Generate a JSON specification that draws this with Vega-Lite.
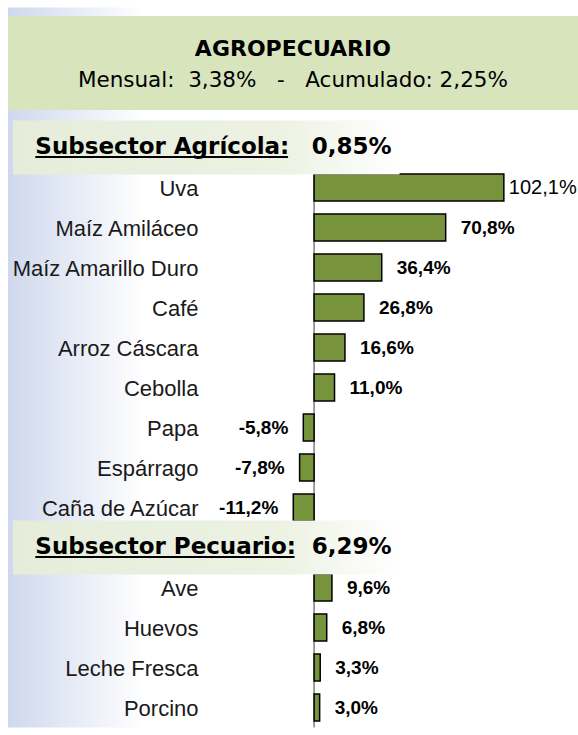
{
  "$schema": "https://vega.github.io/schema/vega-lite/v6.json",
  "width": 578,
  "height": 735,
  "autosize": {"type": "fit", "contains": "padding"},
  "padding": 0,
  "background": "#ffffff",
  "config": {"view": {"stroke": null}, "axis": {"grid": false}},
  "datasets": {
    "items": [
      {"producto": "Uva", "subsector": "Agrícola", "var": 102.1},
      {"producto": "Maíz Amiláceo", "subsector": "Agrícola", "var": 70.8},
      {"producto": "Maíz Amarillo Duro", "subsector": "Agrícola", "var": 36.4},
      {"producto": "Café", "subsector": "Agrícola", "var": 26.8},
      {"producto": "Arroz Cáscara", "subsector": "Agrícola", "var": 16.6},
      {"producto": "Cebolla", "subsector": "Agrícola", "var": 11.0},
      {"producto": "Papa", "subsector": "Agrícola", "var": -5.8},
      {"producto": "Espárrago", "subsector": "Agrícola", "var": -7.8},
      {"producto": "Caña de Azúcar", "subsector": "Agrícola", "var": -11.2},
      {"producto": "Ave", "subsector": "Pecuario", "var": 9.6},
      {"producto": "Huevos", "subsector": "Pecuario", "var": 6.8},
      {"producto": "Leche Fresca", "subsector": "Pecuario", "var": 3.3},
      {"producto": "Porcino", "subsector": "Pecuario", "var": 3.0}
    ],
    "headers": [
      {"slot": "_H1", "nombre": "Subsector Agrícola:", "valor": "0,85%"},
      {"slot": "_H2", "nombre": "Subsector Pecuario:", "valor": "6,29%"}
    ],
    "titulo": [
      {"titulo": "AGROPECUARIO", "sub": "Mensual:\u00a0\u00a03,38%\u00a0\u00a0\u00a0-\u00a0\u00a0\u00a0Acumulado:\u00a02,25%"}
    ]
  },
  "layer": [
    {
      "data": {"values": [{}]},
      "mark": {"type": "rect", "fill": {"gradient": "linear", "x1": 0, "x2": 1, "y1": 0, "y2": 0, "stops": [{"offset": 0, "color": "#cfd8ed"}, {"offset": 0.24, "color": "#ffffff"}]}},
      "encoding": {
        "x": {"datum": -164.7, "type": "quantitative", "scale": {"domain": [-169, 142], "nice": false}, "axis": null},
        "x2": {"datum": 142},
        "y": {"datum": "_S0", "type": "nominal", "bandPosition": 0},
        "y2": {"datum": "Porcino", "bandPosition": 1}
      }
    },
    {
      "data": {"values": [{}]},
      "mark": {"type": "rect", "fill": "#d8e4bc"},
      "encoding": {
        "x": {"datum": -164.6, "type": "quantitative"},
        "x2": {"datum": 142},
        "y": {"datum": "_S0", "type": "nominal", "bandPosition": 0.21},
        "y2": {"datum": "_G", "bandPosition": 0.56}
      }
    },
    {
      "data": {"name": "titulo"},
      "mark": {"type": "text", "align": "center", "baseline": "alphabetic", "dy": -12, "font": "DejaVu Sans", "fontWeight": "bold", "fontSize": 22, "color": "#000000"},
      "encoding": {
        "x": {"datum": -11.4, "type": "quantitative"},
        "y": {"datum": "_T", "type": "nominal"},
        "text": {"field": "titulo"}
      }
    },
    {
      "data": {"name": "titulo"},
      "mark": {"type": "text", "align": "center", "baseline": "alphabetic", "dy": 19, "font": "DejaVu Sans", "fontSize": 21.5, "color": "#000000"},
      "encoding": {
        "x": {"datum": -11.4, "type": "quantitative"},
        "y": {"datum": "_T", "type": "nominal"},
        "text": {"field": "sub"}
      }
    },
    {
      "data": {"values": [{}]},
      "mark": {"type": "rule", "color": "#7f7f7f", "strokeWidth": 1.5},
      "encoding": {
        "x": {"datum": 0, "type": "quantitative"},
        "y": {"datum": "Uva", "type": "nominal", "bandPosition": 0},
        "y2": {"datum": "Porcino", "bandPosition": 1}
      }
    },
    {
      "data": {"name": "items"},
      "mark": {"type": "bar", "height": {"band": 0.67}, "fill": "#77933c", "stroke": "#000000", "strokeWidth": 1.5},
      "encoding": {
        "x": {"field": "var", "type": "quantitative"},
        "y": {
          "field": "producto",
          "type": "nominal",
          "sort": null,
          "scale": {
            "type": "band",
            "domain": ["_S0", "_T", "_G", "_H1", "Uva", "Maíz Amiláceo", "Maíz Amarillo Duro", "Café", "Arroz Cáscara", "Cebolla", "Papa", "Espárrago", "Caña de Azúcar", "_H2", "Ave", "Huevos", "Leche Fresca", "Porcino"],
            "paddingInner": 0,
            "paddingOuter": 0.1875
          },
          "axis": {
            "orient": "left",
            "offset": -200,
            "domain": false,
            "ticks": false,
            "labelPadding": 2,
            "labelFont": "Liberation Sans",
            "labelFontSize": 22,
            "labelColor": "#1a1a1a",
            "labelLimit": 300,
            "labelOffset": 1,
            "title": null,
            "grid": false,
            "zindex": 1,
            "labelExpr": "indexof(datum.label, '_') == 0 ? '' : datum.label"
          }
        }
      }
    },
    {
      "data": {"name": "items"},
      "transform": [
        {"filter": "datum.var > 100"},
        {"calculate": "(datum.var < 0 ? '-' : '') + replace(format(abs(datum.var), '.1f'), '.', ',') + '%'", "as": "etiqueta"}
      ],
      "mark": {"type": "text", "align": "left", "dx": 5, "font": "Liberation Sans", "fontSize": 20, "color": "#000000"},
      "encoding": {
        "x": {"field": "var", "type": "quantitative"},
        "y": {"field": "producto", "type": "nominal"},
        "text": {"field": "etiqueta"}
      }
    },
    {
      "data": {"name": "items"},
      "transform": [
        {"filter": "datum.var > 0 && datum.var <= 100"},
        {"calculate": "(datum.var < 0 ? '-' : '') + replace(format(abs(datum.var), '.1f'), '.', ',') + '%'", "as": "etiqueta"}
      ],
      "mark": {"type": "text", "align": "left", "dx": 15, "font": "Liberation Sans", "fontWeight": "bold", "fontSize": 19, "color": "#000000"},
      "encoding": {
        "x": {"field": "var", "type": "quantitative"},
        "y": {"field": "producto", "type": "nominal"},
        "text": {"field": "etiqueta"}
      }
    },
    {
      "data": {"name": "items"},
      "transform": [
        {"filter": "datum.var < 0"},
        {"calculate": "(datum.var < 0 ? '-' : '') + replace(format(abs(datum.var), '.1f'), '.', ',') + '%'", "as": "etiqueta"}
      ],
      "mark": {"type": "text", "align": "right", "dx": -15, "font": "Liberation Sans", "fontWeight": "bold", "fontSize": 19, "color": "#000000"},
      "encoding": {
        "x": {"field": "var", "type": "quantitative"},
        "y": {"field": "producto", "type": "nominal"},
        "text": {"field": "etiqueta"}
      }
    },
    {
      "data": {"name": "headers"},
      "mark": {"type": "bar", "height": {"band": 1.35}, "fill": {"gradient": "linear", "x1": 0, "x2": 1, "y1": 0, "y2": 0, "stops": [{"offset": 0, "color": "#e5edda"}, {"offset": 0.7, "color": "#edf2e3"}, {"offset": 1, "color": "#ffffff"}]}},
      "encoding": {
        "x": {"datum": -162, "type": "quantitative"},
        "x2": {"datum": 46},
        "y": {"field": "slot", "type": "nominal"}
      }
    },
    {
      "data": {"name": "headers"},
      "mark": {"type": "text", "align": "left", "baseline": "alphabetic", "dy": 6, "font": "DejaVu Sans", "fontWeight": "bold", "fontSize": 23, "color": "#000000"},
      "encoding": {
        "x": {"datum": -150, "type": "quantitative"},
        "y": {"field": "slot", "type": "nominal"},
        "text": {"field": "nombre"}
      }
    },
    {
      "data": {"name": "headers"},
      "mark": {"type": "text", "align": "left", "baseline": "alphabetic", "dy": 6, "font": "DejaVu Sans", "fontWeight": "bold", "fontSize": 23, "color": "#000000"},
      "encoding": {
        "x": {"datum": -1.2, "type": "quantitative"},
        "y": {"field": "slot", "type": "nominal"},
        "text": {"field": "valor"}
      }
    },
    {
      "data": {"values": [{}]},
      "mark": {"type": "rule", "color": "#000000", "strokeWidth": 2},
      "encoding": {
        "x": {"datum": -150, "type": "quantitative"},
        "x2": {"datum": -14},
        "y": {"datum": "_H1", "type": "nominal", "bandPosition": 0.74}
      }
    },
    {
      "data": {"values": [{}]},
      "mark": {"type": "rule", "color": "#000000", "strokeWidth": 2},
      "encoding": {
        "x": {"datum": -150, "type": "quantitative"},
        "x2": {"datum": -10.5},
        "y": {"datum": "_H2", "type": "nominal", "bandPosition": 0.74}
      }
    }
  ]
}
